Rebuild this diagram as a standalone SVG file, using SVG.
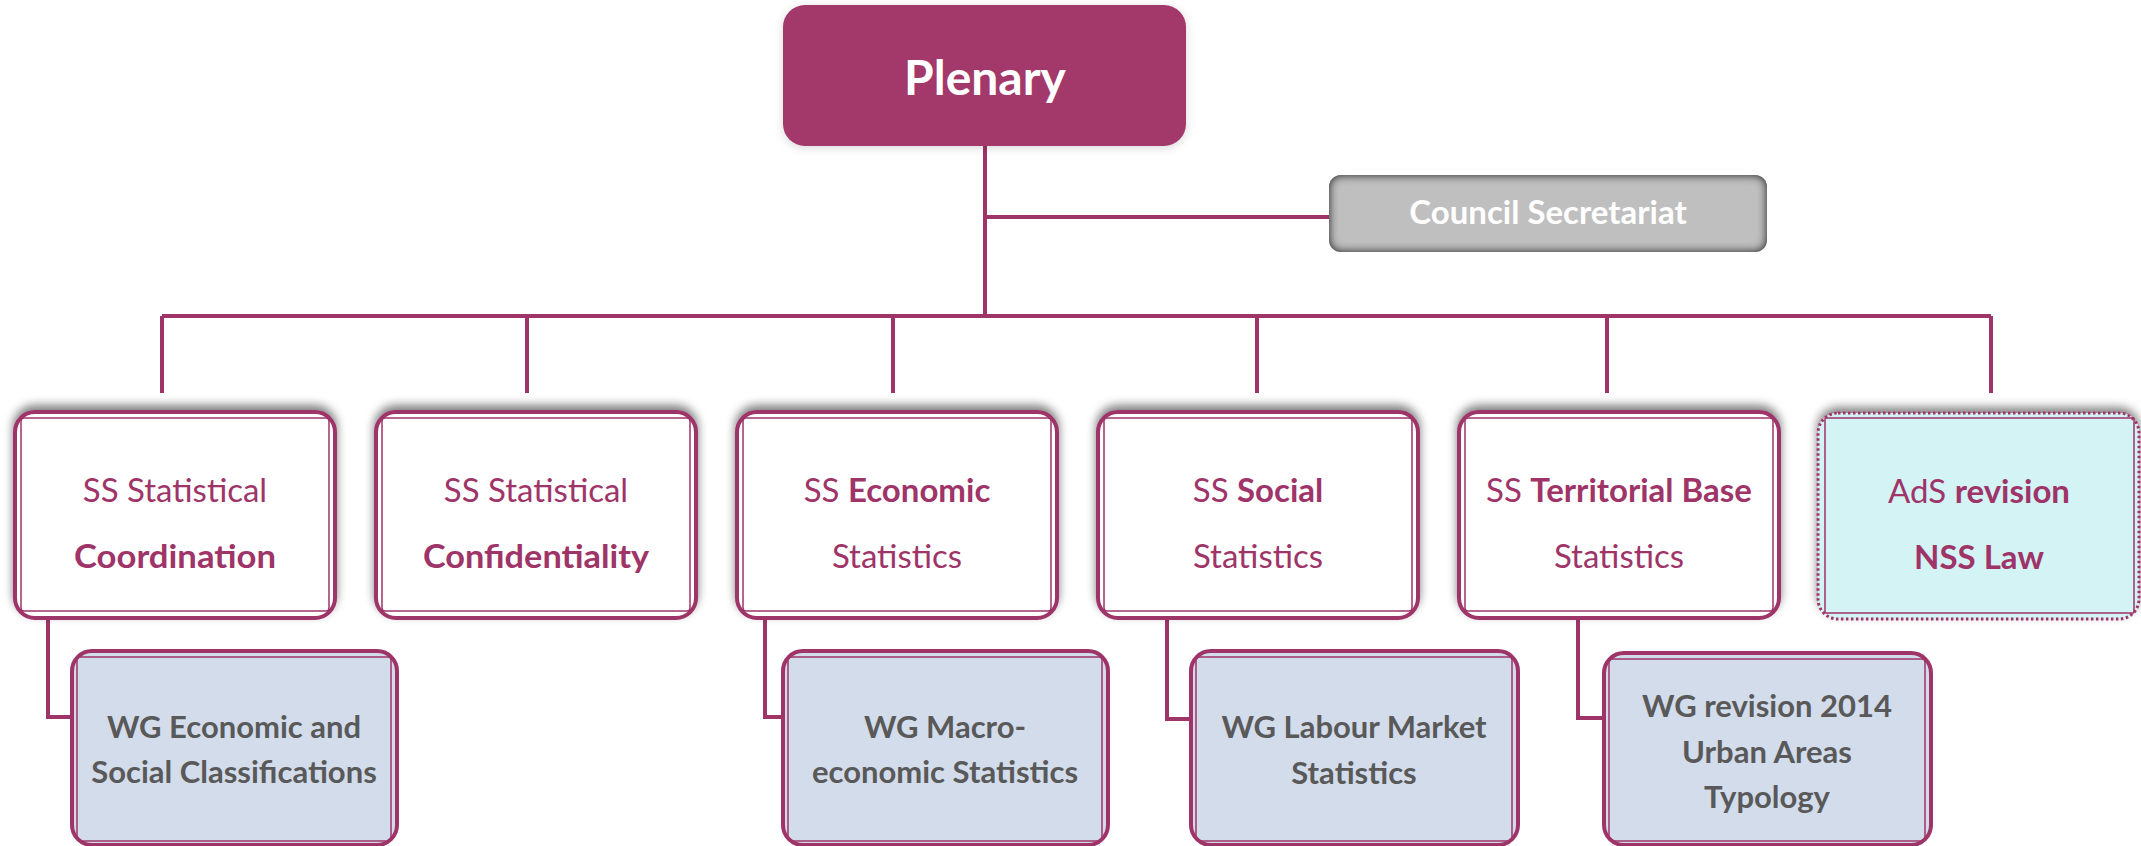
<svg xmlns="http://www.w3.org/2000/svg" width="2141" height="846" viewBox="0 0 2141 846">
<defs>
<filter id="shUp" x="-10%" y="-20%" width="120%" height="140%">
<feGaussianBlur in="SourceAlpha" stdDeviation="5"/>
<feOffset dy="-5" result="b"/>
<feFlood flood-color="#000" flood-opacity="0.5"/>
<feComposite in2="b" operator="in" result="s"/>
<feMerge><feMergeNode in="s"/><feMergeNode in="SourceGraphic"/></feMerge>
</filter>
<filter id="glow" x="-10%" y="-20%" width="120%" height="140%">
<feGaussianBlur in="SourceAlpha" stdDeviation="5"/>
<feOffset dy="2" result="b"/>
<feFlood flood-color="#000" flood-opacity="0.15"/>
<feComposite in2="b" operator="in" result="s"/>
<feMerge><feMergeNode in="s"/><feMergeNode in="SourceGraphic"/></feMerge>
</filter>
<filter id="inset" x="-5%" y="-20%" width="110%" height="140%">
<feFlood flood-color="#333"/>
<feComposite in2="SourceAlpha" operator="out"/>
<feGaussianBlur stdDeviation="5"/>
<feComposite in2="SourceAlpha" operator="in" result="sh"/>
<feMerge><feMergeNode in="SourceGraphic"/><feMergeNode in="sh"/><feMergeNode in="sh"/></feMerge>
</filter>
</defs>
<style>
.conn{fill:none;stroke:#9E3468;stroke-width:4;stroke-linejoin:miter}
.ss{fill:#fff;stroke:#9E3468;stroke-width:4}
.inner{fill:none;stroke:#9E3468;stroke-width:1.5}
.wg{fill:#D3DCEB;stroke:#9E3468;stroke-width:4}
.ads{fill:#D3F3F5;stroke:#9E3468;stroke-width:3;stroke-dasharray:2.5 2.5}
.t{font-family:Lato,"Open Sans","Liberation Sans",sans-serif;text-anchor:middle}
.sst{font-size:33px;fill:#9E3468}
.wgt{font-size:31px;fill:#595959;font-weight:bold}
.b{font-weight:bold}
</style>
<rect width="2141" height="846" fill="#fff"/>
<g id="connectors">
<path class="conn" d="M985 146V316M985 217H1329M162 316H1991M162 316V393M527 316V393M893 316V393M1257 316V393M1607 316V393M1991 316V393"/>
<path class="conn" d="M48 618V717H72M765 617V717H783M1167 617V719H1191M1578 615V718H1604"/>
</g>
<g id="plenary">
<rect x="783" y="5" width="403" height="141" rx="22" fill="#A3386B" filter="url(#glow)"/>
<text class="t b" x="985" y="95" font-size="48" fill="#fff">Plenary</text>
</g>
<g id="council">
<rect x="1329" y="175" width="438" height="77" rx="12" fill="#BFBFBF" filter="url(#inset)"/>
<text class="t b" x="1548" y="224" font-size="33" fill="#fff">Council Secretariat</text>
</g>
<g id="ss1">
<rect class="ss" x="15" y="412" width="320" height="206" rx="20" filter="url(#shUp)"/>
<rect class="inner" x="21" y="418" width="308" height="193" rx="3"/>
<text class="t sst" x="175" y="502">SS Statistical</text>
<text class="t sst b" x="175" y="568" font-size="34" textLength="202" lengthAdjust="spacingAndGlyphs">Coordination</text>
</g>
<g id="ss2">
<rect class="ss" x="376" y="412" width="320" height="206" rx="20" filter="url(#shUp)"/>
<rect class="inner" x="382" y="418" width="308" height="193" rx="3"/>
<text class="t sst" x="536" y="502">SS Statistical</text>
<text class="t sst b" x="536" y="568" font-size="34" textLength="226" lengthAdjust="spacingAndGlyphs">Confidentiality</text>
</g>
<g id="ss3">
<rect class="ss" x="737" y="412" width="320" height="206" rx="20" filter="url(#shUp)"/>
<rect class="inner" x="743" y="418" width="308" height="193" rx="3"/>
<text class="t sst" x="897" y="502">SS <tspan class="b">Economic</tspan></text>
<text class="t sst" x="897" y="568">Statistics</text>
</g>
<g id="ss4">
<rect class="ss" x="1098" y="412" width="320" height="206" rx="20" filter="url(#shUp)"/>
<rect class="inner" x="1104" y="418" width="308" height="193" rx="3"/>
<text class="t sst" x="1258" y="502">SS <tspan class="b">Social</tspan></text>
<text class="t sst" x="1258" y="568">Statistics</text>
</g>
<g id="ss5">
<rect class="ss" x="1459" y="412" width="320" height="206" rx="20" filter="url(#shUp)"/>
<rect class="inner" x="1465" y="418" width="308" height="193" rx="3"/>
<text class="t sst" x="1619" y="502">SS <tspan class="b">Territorial Base</tspan></text>
<text class="t sst" x="1619" y="568">Statistics</text>
</g>
<g id="ads">
<rect class="ads" x="1818" y="413" width="321" height="206" rx="20" filter="url(#shUp)"/>
<rect class="inner" x="1825" y="418" width="309" height="195" rx="1"/>
<text class="t sst" x="1979" y="503">AdS <tspan class="b">revision</tspan></text>
<text class="t sst b" x="1979" y="569">NSS Law</text>
</g>
<g id="wg1">
<rect class="wg" x="72" y="651" width="325" height="194" rx="20"/>
<rect class="inner" x="77" y="657" width="314" height="184" rx="3"/>
<text class="t wgt" x="234" y="738">WG Economic and</text>
<text class="t wgt" x="234" y="783">Social Classifications</text>
</g>
<g id="wg2">
<rect class="wg" x="783" y="651" width="325" height="194" rx="20"/>
<rect class="inner" x="788" y="657" width="314" height="184" rx="3"/>
<text class="t wgt" x="945" y="738">WG Macro-</text>
<text class="t wgt" x="945" y="783">economic Statistics</text>
</g>
<g id="wg3">
<rect class="wg" x="1191" y="651" width="327" height="194" rx="20"/>
<rect class="inner" x="1196" y="657" width="316" height="184" rx="3"/>
<text class="t wgt" x="1354" y="738">WG Labour Market</text>
<text class="t wgt" x="1354" y="784">Statistics</text>
</g>
<g id="wg4">
<rect class="wg" x="1604" y="653" width="327" height="192" rx="20"/>
<rect class="inner" x="1609" y="659" width="316" height="182" rx="3"/>
<text class="t wgt" x="1767" y="717">WG revision 2014</text>
<text class="t wgt" x="1767" y="763">Urban Areas</text>
<text class="t wgt" x="1767" y="808">Typology</text>
</g>
</svg>
